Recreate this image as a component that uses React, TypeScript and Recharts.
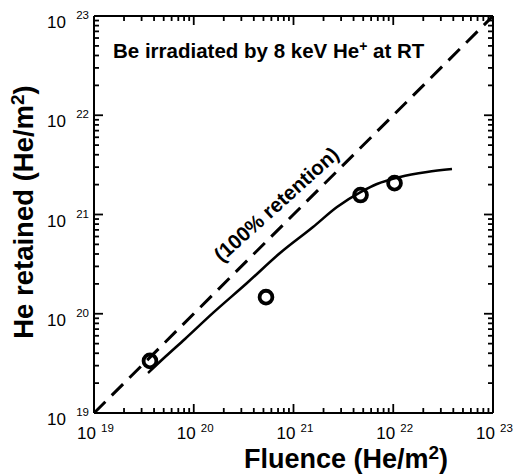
import * as React from "react";
import { ComposedChart, Line, XAxis, YAxis } from "recharts";

// measured points (circles)
const MEASURED_FLUENCE = [3.64e19, 5.3e20, 4.7e21, 1.03e22];
const MEASURED_RETAINED = [3.35e19, 1.47e20, 1.57e21, 2.07e21];

// calculated curve (solid)
const FIT_FLUENCE = [3.48e19, 5.15e19, 8.17e19, 1.56e20, 3.42e20, 7.33e20, 1.57e21, 2.73e21, 4.75e21, 6.87e21, 1.17e22, 2.18e22, 3.88e22];
const FIT_RETAINED = [2.53e19, 3.66e19, 5.57e19, 1.02e20, 2.04e20, 4.09e20, 7.48e20, 1.19e21, 1.69e21, 2.03e21, 2.39e21, 2.68e21, 2.87e21];

// 100% retention line (dashed)
const FULL_RETENTION = [1e19, 1e23];

const DECADES = [19, 20, 21, 22, 23];
const MANTISSAS = [2, 3, 4, 5, 6, 7, 8, 9];

const DOMAIN: [number, number] = [1e19, 1e23];
const FONT = "'Liberation Sans', Arial, Helvetica, sans-serif";

const majorTicks = DECADES.map((e) => Math.pow(10, e));
const allTicks: number[] = [];
DECADES.forEach((e, i) => {
  allTicks.push(Math.pow(10, e));
  if (i < DECADES.length - 1) MANTISSAS.forEach((m) => allTicks.push(m * Math.pow(10, e)));
});

const measured = MEASURED_FLUENCE.map((x, i) => ({ x, y: MEASURED_RETAINED[i] }));
const fit = FIT_FLUENCE.map((x, i) => ({ x, y: FIT_RETAINED[i] }));
const diag = FULL_RETENTION.map((v) => ({ x: v, y: v }));

const isMajor = (v: number) => majorTicks.some((m) => Math.abs(v / m - 1) < 1e-6);
const expOf = (v: number) => Math.round(Math.log10(v));

function Tick(props: any) {
  const { x, y, payload, side } = props;
  const v = Number(payload.value);
  const major = isMajor(v);
  const len = major ? 9 : 5;
  let x2 = x;
  let y2 = y;
  if (side === "bottom") y2 = y - len;
  if (side === "top") y2 = y + len;
  if (side === "left") x2 = x + len;
  if (side === "right") x2 = x - len;
  const showLabel = major && (side === "bottom" || side === "left");
  const base = side === "bottom" ? { x: x + 2, y: y + 26 } : { x: x - 28, y: y + 12 };
  const sup = side === "bottom" ? { x: x + 7, y: y + 19, a: "start" } : { x: x - 5, y: y + 3, a: "end" };
  return (
    <g>
      <line x1={x} y1={y} x2={x2} y2={y2} stroke="#000" strokeWidth={1.8} />
      <text x={base.x} y={base.y} textAnchor="end" fontSize={17} fontFamily={FONT} fill="#000">
        {showLabel ? "10" : ""}
      </text>
      <text x={sup.x} y={sup.y} textAnchor={sup.a} fontSize={11.5} fontFamily={FONT} fill="#000">
        {showLabel ? String(expOf(v)) : ""}
      </text>
    </g>
  );
}

function Ring(props: any) {
  const { cx, cy, index } = props;
  if (cx == null || cy == null) return null;
  return <circle key={`ring-${index}`} cx={cx} cy={cy} r={6.4} fill="none" stroke="#000" strokeWidth={3.8} />;
}

const axisLine = { stroke: "#000", strokeWidth: 2 };
const logAxis = {
  type: "number" as const,
  scale: "log" as const,
  domain: DOMAIN,
  allowDataOverflow: true,
  ticks: allTicks,
  interval: 0 as const,
  tickLine: false,
  tickSize: 0,
  tickMargin: 0,
  axisLine,
};

function Annotations() {
  return (
    <svg width={514} height={476} style={{ position: "absolute", left: 0, top: 0, pointerEvents: "none" }}>
      <text x={113} y={58} fontFamily={FONT} fontWeight="bold" fontSize={20.5} fill="#000">
        Be irradiated by 8 keV He
        <tspan dy={-7} fontSize={14}>+</tspan>
        <tspan dy={7}> at RT</tspan>
      </text>
      <text
        x={276}
        y={204}
        transform="rotate(-42, 276, 204)"
        textAnchor="middle"
        dominantBaseline="central"
        fontFamily={FONT}
        fontWeight="bold"
        fontSize={20.5}
        fill="#000"
      >
        (100% retention)
      </text>
      <text x={346} y={468} textAnchor="middle" fontFamily={FONT} fontWeight="bold" fontSize={27} fill="#000">
        Fluence (He/m
        <tspan dy={-9} fontSize={19}>2</tspan>
        <tspan dy={9}>)</tspan>
      </text>
      <text
        x={33}
        y={212}
        transform="rotate(-90, 33, 212)"
        textAnchor="middle"
        fontFamily={FONT}
        fontWeight="bold"
        fontSize={27.5}
        fill="#000"
      >
        He retained (He/m
        <tspan dy={-9} fontSize={19}>2</tspan>
        <tspan dy={9}>)</tspan>
      </text>
    </svg>
  );
}

export default function App() {
  return (
    <div style={{ position: "absolute", left: 0, top: 0, width: 514, height: 476, background: "#fff" }}>
      <ComposedChart width={514} height={476} margin={{ top: 0, right: 0, bottom: 0, left: 0 }}>
        <XAxis xAxisId="b" dataKey="x" {...logAxis} height={63} tick={(p: any) => <Tick {...p} side="bottom" />} />
        <XAxis xAxisId="t" orientation="top" dataKey="x" {...logAxis} height={16} tick={(p: any) => <Tick {...p} side="top" />} />
        <YAxis yAxisId="l" dataKey="y" {...logAxis} width={94} tick={(p: any) => <Tick {...p} side="left" />} />
        <YAxis yAxisId="r" orientation="right" dataKey="y" {...logAxis} width={21} tick={(p: any) => <Tick {...p} side="right" />} />
        <Line
          xAxisId="b"
          yAxisId="l"
          data={diag}
          dataKey="y"
          stroke="#000"
          strokeWidth={3}
          strokeDasharray="16 9"
          dot={false}
          activeDot={false}
          isAnimationActive={false}
        />
        <Line
          xAxisId="b"
          yAxisId="l"
          data={fit}
          dataKey="y"
          type="monotone"
          stroke="#000"
          strokeWidth={2.6}
          dot={false}
          activeDot={false}
          isAnimationActive={false}
        />
        <Line
          xAxisId="b"
          yAxisId="l"
          data={measured}
          dataKey="y"
          stroke="none"
          dot={(p: any) => <Ring {...p} />}
          activeDot={false}
          isAnimationActive={false}
        />
      </ComposedChart>
      <Annotations />
    </div>
  );
}
